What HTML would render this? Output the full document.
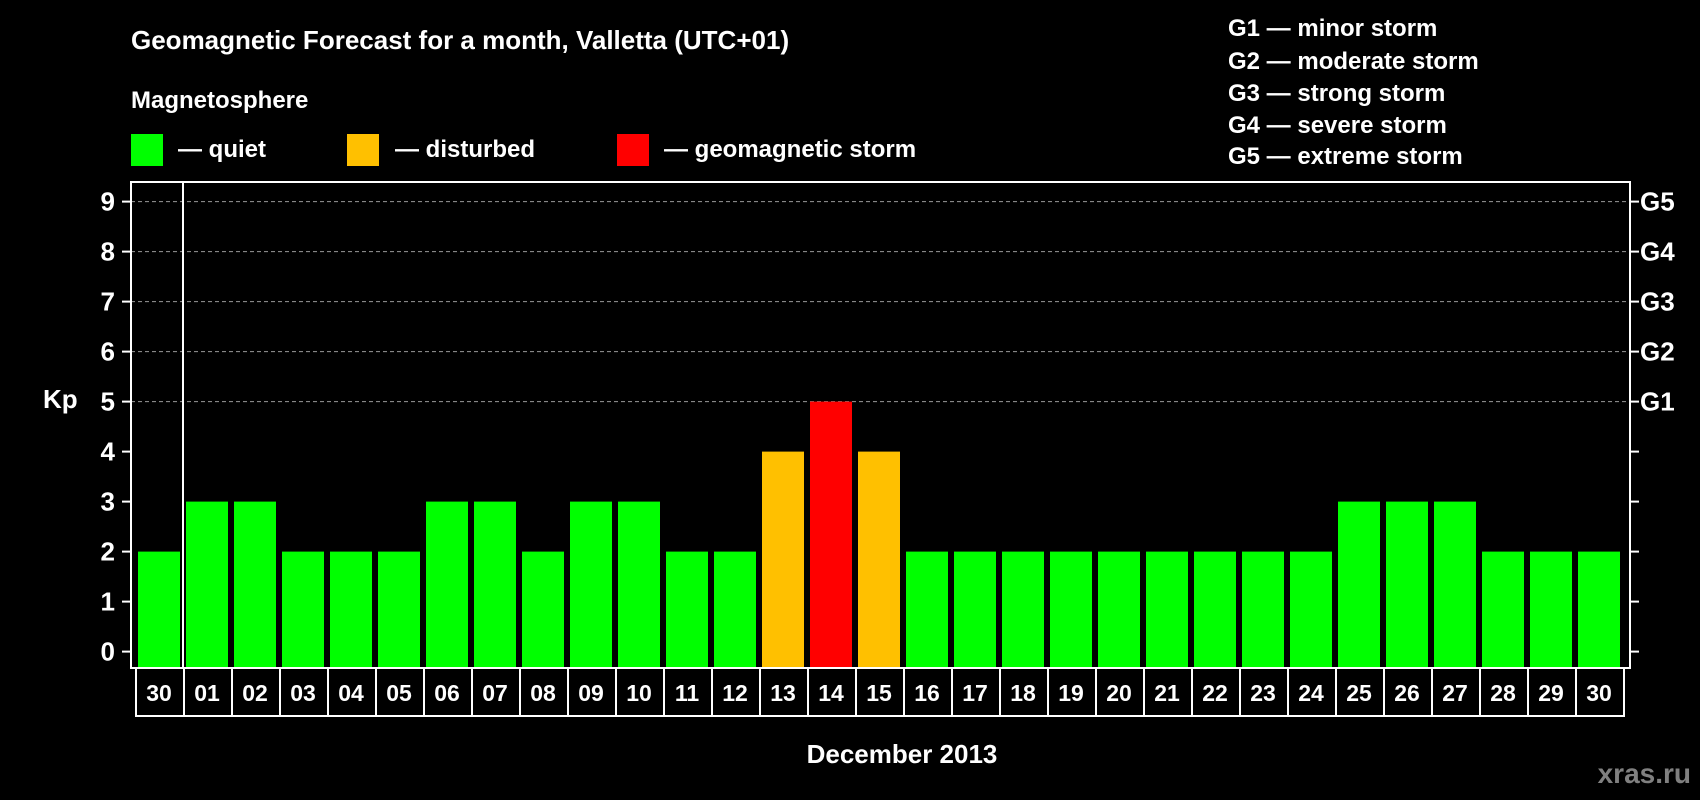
<!DOCTYPE html>
<html><head><meta charset="utf-8">
<style>
html,body{margin:0;padding:0;background:#000;}
svg{display:block;font-family:"Liberation Sans",Arial,sans-serif;font-weight:bold;}
</style></head>
<body>
<svg id="chart" width="1700" height="800" viewBox="0 0 1700 800">
<text x="131" y="49" fill="#fff" font-size="26">Geomagnetic Forecast for a month, Valletta (UTC+01)</text>
<text x="131" y="108" fill="#fff" font-size="24">Magnetosphere</text>
<g>
<rect x="131" y="134" width="32" height="32" fill="#00ff00"/>
<text x="178" y="157" fill="#fff" font-size="24">— quiet</text></g>
<g>
<rect x="347" y="134" width="32" height="32" fill="#ffc000"/>
<text x="395" y="157" fill="#fff" font-size="24">— disturbed</text></g>
<g>
<rect x="617" y="134" width="32" height="32" fill="#ff0000"/>
<text x="664" y="157" fill="#fff" font-size="24">— geomagnetic storm</text></g>
<g fill="#fff" font-size="24">
<text x="1228" y="36">G1 — minor storm</text>
<text x="1228" y="69">G2 — moderate storm</text>
<text x="1228" y="101">G3 — strong storm</text>
<text x="1228" y="133">G4 — severe storm</text>
<text x="1228" y="164">G5 — extreme storm</text>
</g>
<text x="43" y="408" fill="#fff" font-size="26">Kp</text>
<text x="902" y="763" fill="#fff" font-size="26" text-anchor="middle">December 2013</text>
<text x="1691" y="783" fill="#808080" font-size="28" text-anchor="end">xras.ru</text>
<g id="grid"></g>
<g id="bars"></g>
<g id="frame"></g>
</svg>
<script>
const dayLabels = ["30","01","02","03","04","05","06","07","08","09","10","11","12","13","14","15","16","17","18","19","20","21","22","23","24","25","26","27","28","29","30"];
const kpValues = [2,3,3,2,2,2,3,3,2,3,3,2,2,4,5,4,2,2,2,2,2,2,2,2,2,3,3,3,2,2,2];
const yTicks = [0,1,2,3,4,5,6,7,8,9];
const gLabels = ["G1","G2","G3","G4","G5"];

const NS="http://www.w3.org/2000/svg";
const L=131,R=1630,T=182,B=668,Y0=651.6,UNIT=50,X0=138,PITCH=48,BW=42;
const y=v=>Y0-v*UNIT;
const x=i=>X0+i*PITCH;
function mk(tag,attrs,parent){const e=document.createElementNS(NS,tag);for(const k in attrs)e.setAttribute(k,attrs[k]);parent.appendChild(e);return e;}
const grid=document.getElementById('grid'),bars=document.getElementById('bars'),frame=document.getElementById('frame');
function color(v){return v>=5?"#ff0000":(v>=4?"#ffc000":"#00ff00");}

yTicks.forEach(v=>{
  if(v>=5){const g=mk('line',{x1:L,x2:R,y1:y(v),y2:y(v),stroke:'#999','stroke-width':1,'stroke-dasharray':'4,3'},grid);
  
  }
  const t1=mk('line',{x1:L-9,x2:L,y1:y(v),y2:y(v),stroke:'#fff','stroke-width':2},frame);
  
  
  const t2=mk('line',{x1:R,x2:R+9,y1:y(v),y2:y(v),stroke:'#fff','stroke-width':2},frame);
  
  
  const lb=mk('text',{x:115,y:y(v)+9,fill:'#fff','font-size':26,'text-anchor':'end'},frame);
  lb.textContent=v;
  
  
});
gLabels.forEach((g,i)=>{
  const t=mk('text',{x:1640,y:y(5+i)+9,fill:'#fff','font-size':26},frame);
  t.textContent=g;
  
  
});
kpValues.forEach((v,i)=>{
  const r=mk('rect',{x:x(i),y:y(v),width:BW,height:B-y(v),fill:color(v)},bars);
  
  
});
const fr=mk('rect',{x:L,y:T,width:R-L,height:B-T,fill:'none',stroke:'#fff','stroke-width':2},frame);


const dv=mk('line',{x1:x(1)-3,x2:x(1)-3,y1:T,y2:B,stroke:'#fff','stroke-width':2},frame);


dayLabels.forEach((d,i)=>{
  const bx=mk('rect',{x:x(i)-2,y:B,width:PITCH,height:48,fill:'none',stroke:'#fff','stroke-width':2},frame);
  
  
  const t=mk('text',{x:x(i)+BW/2,y:B+33,fill:'#fff','font-size':23,'text-anchor':'middle'},frame);
  t.textContent=d;
  
  
});
</script>
</body></html>
